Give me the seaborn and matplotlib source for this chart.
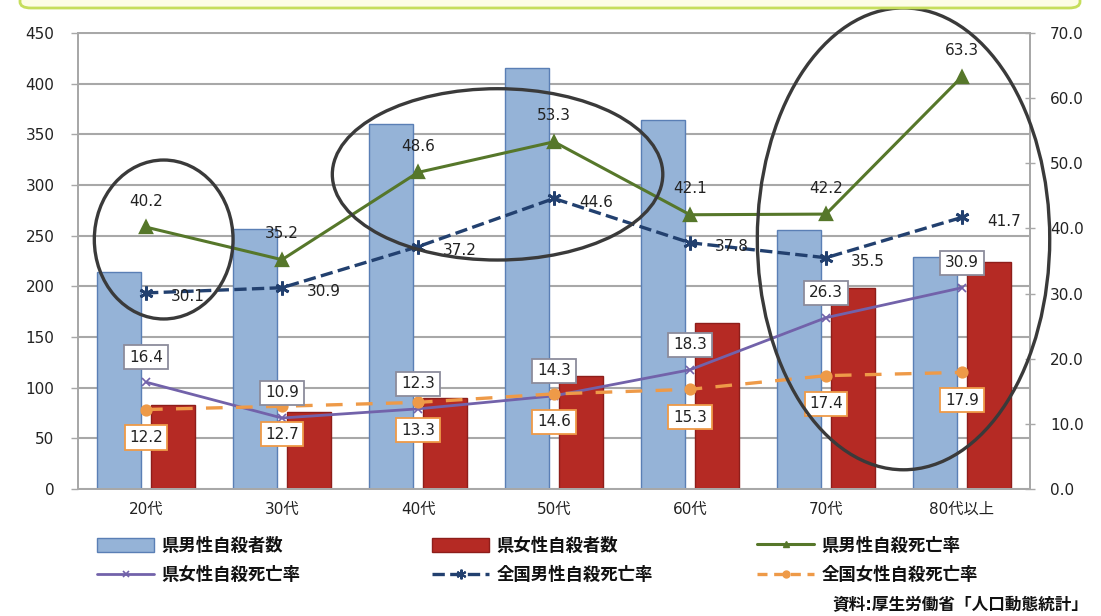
import numpy as np
import pandas as pd
import matplotlib
matplotlib.use("Agg")
import matplotlib.pyplot as plt
import seaborn as sns
from matplotlib.patches import Ellipse, FancyBboxPatch, Patch
from matplotlib.lines import Line2D

# ---------------- data ----------------
categories = ['20代', '30代', '40代', '50代', '60代', '70代', '80代以上']
pref_male_count = [214, 257, 360, 415, 364, 256, 229]
pref_female_count = [83, 76, 90, 112, 164, 198, 224]
pref_male_rate = [40.2, 35.2, 48.6, 53.3, 42.1, 42.2, 63.3]
pref_female_rate = [16.4, 10.9, 12.3, 14.3, 18.3, 26.3, 30.9]
nat_male_rate = [30.1, 30.9, 37.2, 44.6, 37.8, 35.5, 41.7]
nat_female_rate = [12.2, 12.7, 13.3, 14.6, 15.3, 17.4, 17.9]

series_names = ['県男性自殺者数', '県女性自殺者数', '県男性自殺死亡率',
                '県女性自殺死亡率', '全国男性自殺死亡率', '全国女性自殺死亡率']
left_ticks = [0, 50, 100, 150, 200, 250, 300, 350, 400, 450]
right_ticks = [0, 10, 20, 30, 40, 50, 60, 70]
source_text = '資料:厚生労働省「人口動態統計」'

# ---------------- style ----------------
sns.set_theme(style='white')
plt.rcParams['font.family'] = ['DejaVu Sans', 'Noto Sans CJK JP']

C_BLUE, C_BLUE_E = '#95B3D7', '#5A7FB5'
C_RED, C_RED_E = '#B52A24', '#8E1E1A'
C_GREEN = '#56772A'
C_NAVY = '#22406F'
C_PURPLE = '#7262AA'
C_ORANGE = '#EE9A48'
C_GRID = '#A8A8A8'
C_TXT = '#222222'

fig = plt.figure(figsize=(11.01, 6.16), dpi=100)
ax = fig.add_axes([78 / 1101, 1 - 489 / 616, 952 / 1101, 456 / 616])

# top decorative box (partially visible)
fig.patches.append(FancyBboxPatch((20 / 1101, 1 - 8 / 616), 1060 / 1101, 0.06,
                                  boxstyle='round,pad=0,rounding_size=0.01',
                                  transform=fig.transFigure, fc='#FDFDE6',
                                  ec='#C6DE5C', lw=2.0, zorder=0))

# ---------------- bars ----------------
df = pd.DataFrame({
    'cat': categories * 2,
    'val': pref_male_count + pref_female_count,
    'series': [series_names[0]] * len(categories) + [series_names[1]] * len(categories),
})
sns.barplot(data=df, x='cat', y='val', hue='series', order=categories,
            hue_order=series_names[:2], palette=[C_BLUE, C_RED],
            width=0.8, gap=0.2, ax=ax, legend=False, errorbar=None,
            saturation=1, linewidth=1.0)
for cont, ec in zip(ax.containers, [C_BLUE_E, C_RED_E]):
    for b in cont:
        b.set_edgecolor(ec)

ax.set_xlim(-0.5, len(categories) - 0.5)
ax.set_ylim(0, 450)
ax.set_yticks(left_ticks)
ax.set_xlabel('')
ax.set_ylabel('')
ax.yaxis.grid(True, color=C_GRID, lw=1.5)
ax.xaxis.grid(False)
ax.set_axisbelow(True)
ax.tick_params(axis='y', left=True, length=5, width=1, color=C_GRID,
               labelsize=11, labelcolor=C_TXT, pad=12)
ax.tick_params(axis='x', bottom=False, labelsize=11, labelcolor=C_TXT, pad=3)
for s in ax.spines.values():
    s.set_color(C_GRID)
    s.set_linewidth(1.4)

# ---------------- lines (right axis) ----------------
ax2 = ax.twinx()
sns.pointplot(x=categories, y=pref_male_rate, ax=ax2, color=C_GREEN,
              markers='^', linestyles='-', errorbar=None,
              markersize=8, linewidth=2.2)
sns.pointplot(x=categories, y=nat_male_rate, ax=ax2, color=C_NAVY,
              markers=(6, 2, 0), linestyles='--', errorbar=None,
              markersize=10, linewidth=2.4, markeredgewidth=2)
sns.pointplot(x=categories, y=pref_female_rate, ax=ax2, color=C_PURPLE,
              markers='x', linestyles='-', errorbar=None,
              markersize=6, linewidth=2.0, markeredgewidth=1.2)
sns.pointplot(x=categories, y=nat_female_rate, ax=ax2, color=C_ORANGE,
              markers='o', linestyles='--', errorbar=None,
              markersize=7, linewidth=2.4, dashes=(5, 4))

ax2.set_xlim(-0.5, len(categories) - 0.5)
ax2.set_ylim(0, 70)
ax2.set_yticks(right_ticks)
ax2.set_yticklabels([f'{t:.1f}' for t in right_ticks])
ax2.set_ylabel('')
ax2.grid(False)
ax2.tick_params(axis='y', right=True, direction='inout', length=7, width=1,
                color=C_GRID, labelsize=11, labelcolor=C_TXT, pad=11)
for s in ax2.spines.values():
    s.set_color(C_GRID)
    s.set_linewidth(1.4)

# ---------------- data labels ----------------
def label(values, dx, dy, box_ec=None):
    for i, v in enumerate(values):
        kw = {}
        if box_ec is not None:
            kw['bbox'] = dict(boxstyle='square,pad=0.3', fc='white', ec=box_ec, lw=1.3)
        ax2.annotate(f'{v:.1f}', (i, v), xytext=(dx, dy), textcoords='offset pixels',
                     ha='center', va='center', fontsize=11, color=C_TXT,
                     zorder=6, **kw)

label(pref_male_rate, 0, 26)
label(nat_male_rate, 42, -4)
label(pref_female_rate, 0, 25, box_ec='#8C8C9C')
label(nat_female_rate, 0, -28, box_ec=C_ORANGE)

# ---------------- highlight ellipses ----------------
for (xc, yc, w, h) in [(0.13, 38.3, 1.02, 24.4),
                       (2.585, 48.3, 2.43, 26.3),
                       (5.57, 38.4, 2.15, 70.9)]:
    ax2.add_patch(Ellipse((xc, yc), w, h, fill=False, ec='#3A3A3A', lw=2.4,
                          clip_on=False, zorder=7))

# ---------------- legend (three columns) ----------------
handles = [
    Patch(fc=C_BLUE, ec=C_BLUE_E),
    Patch(fc=C_RED, ec=C_RED_E),
    Line2D([], [], color=C_GREEN, lw=2.2, marker='^', ms=5),
    Line2D([], [], color=C_PURPLE, lw=2.0, marker='x', ms=5, mew=1.2),
    Line2D([], [], color=C_NAVY, lw=2.4, ls='--', marker=(6, 2, 0), ms=7, mew=1.5),
    Line2D([], [], color=C_ORANGE, lw=2.4, ls='--', dashes=(3, 2), marker='o', ms=5),
]
columns = [([0, 3], 97), ([1, 4], 432), ([2, 5], 757)]
for idx, xpix in columns:
    leg = fig.legend([handles[i] for i in idx], [series_names[i] for i in idx],
                     ncol=1, loc='upper left',
                     bbox_to_anchor=(xpix / 1101, 1 - 537 / 616),
                     frameon=False, fontsize=12.5,
                     handlelength=3.3, handleheight=0.9, handletextpad=0.4,
                     labelspacing=0.65, borderaxespad=0, borderpad=0)
    for t in leg.get_texts():
        t.set_fontweight('bold')
        t.set_color('#111111')

fig.text(1088 / 1101, 1 - 605 / 616, source_text, ha='right', va='center',
         fontsize=12, fontweight='bold', color='#111111')

fig.savefig('out.png', dpi=100)
